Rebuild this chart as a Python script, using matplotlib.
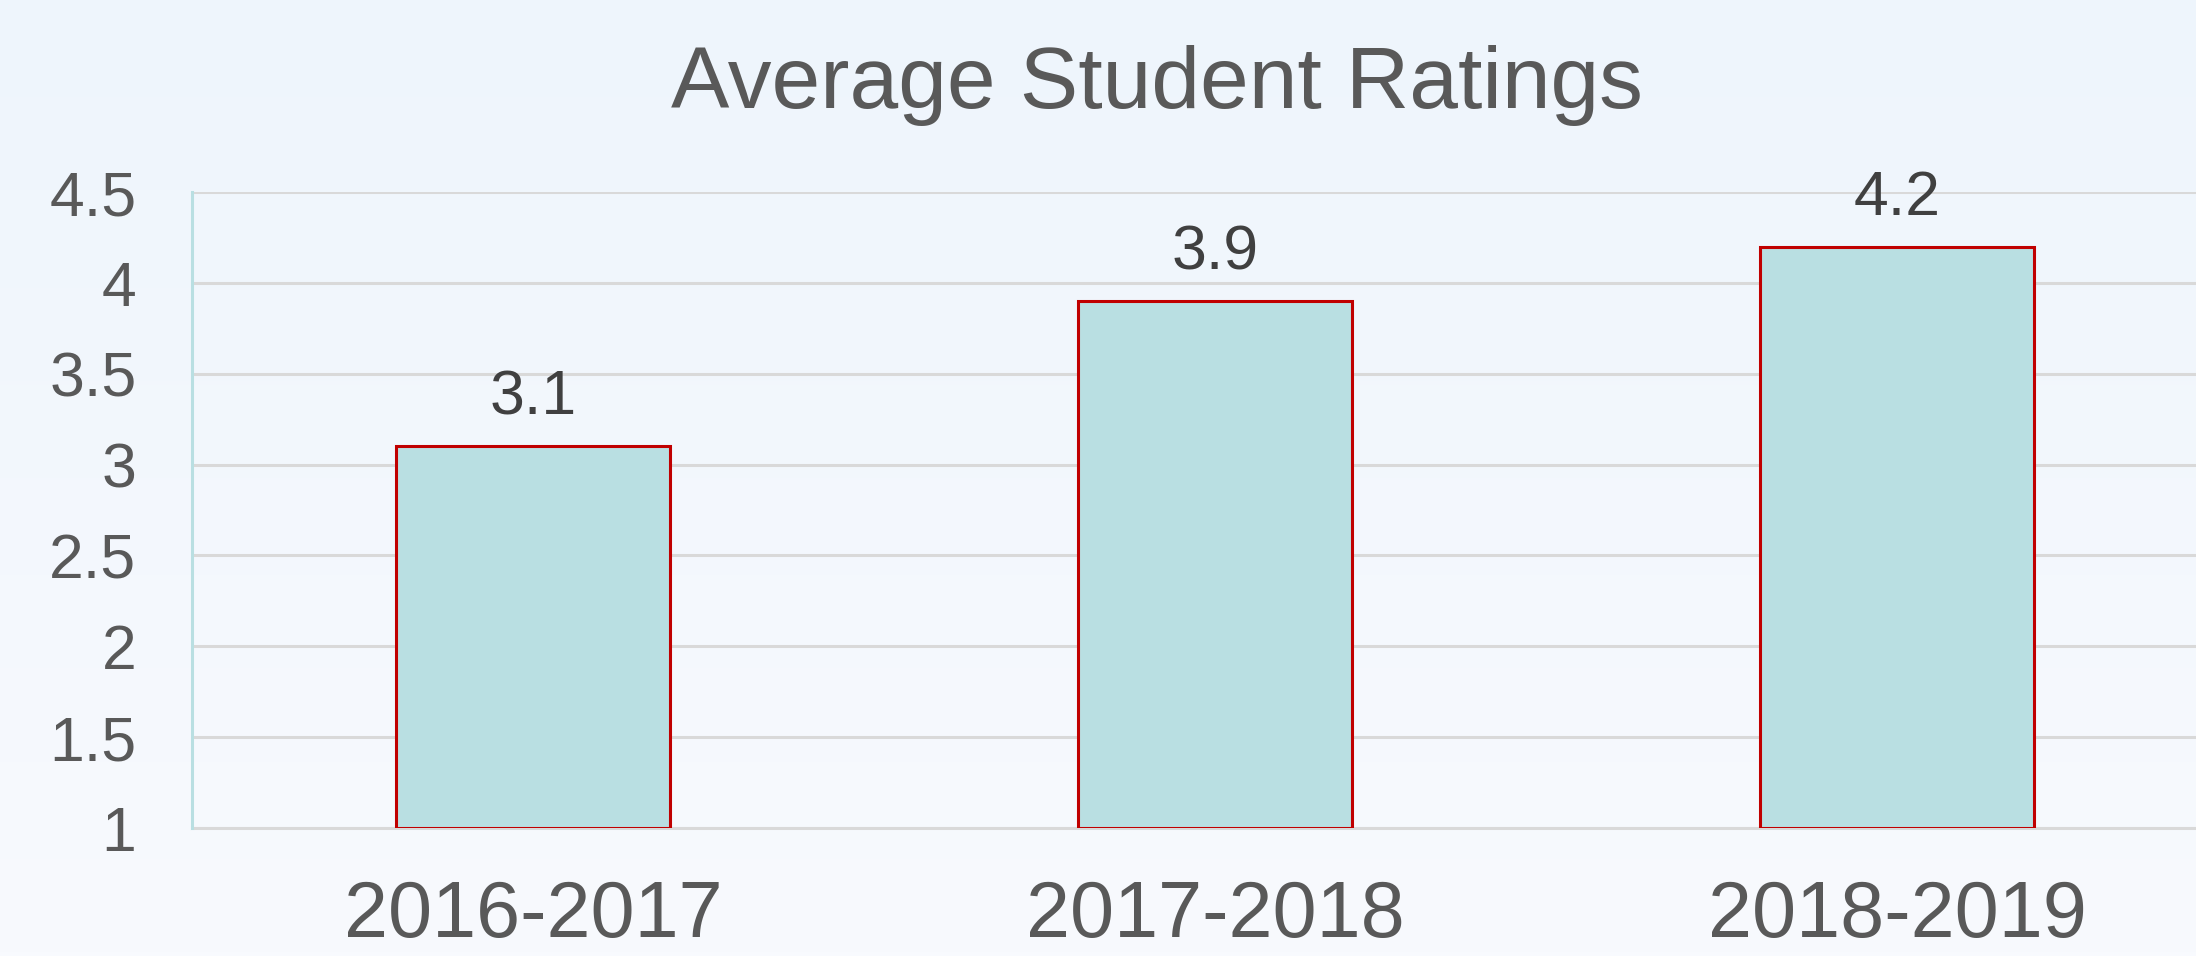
import matplotlib
matplotlib.use("Agg")
import matplotlib.pyplot as plt
import numpy as np

categories = ["2016-2017", "2017-2018", "2018-2019"]
ratings = [3.1, 3.9, 4.2]
y_ticks = [1, 1.5, 2, 2.5, 3, 3.5, 4, 4.5]
y_tick_labels = ["1", "1.5", "2", "2.5", "3", "3.5", "4", "4.5"]
title = "Average Student Ratings"

plt.rcParams['font.family'] = ['Liberation Sans', 'DejaVu Sans']

W, H = 2196, 956
fig = plt.figure(figsize=(W / 100, H / 100), dpi=100)

# background gradient
bg = fig.add_axes([0, 0, 1, 1], zorder=-10)
top = np.array([0xEE, 0xF5, 0xFC]) / 255
bot = np.array([0xF8, 0xFA, 0xFE]) / 255
t = np.linspace(0, 1, 256)[:, None]
grad = (top[None, :] * (1 - t) + bot[None, :] * t)[:, None, :]
bg.imshow(grad, aspect='auto', extent=[0, 1, 0, 1], origin='upper')
bg.axis('off')

left = 192 / W
right = 2238 / W
bottom = 1 - 828 / H
topy = 1 - 192 / H
ax = fig.add_axes([left, bottom, right - left, topy - bottom])
ax.patch.set_alpha(0)

x = np.arange(len(categories))
ax.bar(x, [r - 1 for r in ratings], bottom=1, width=0.403, color="#B9DFE2",
       edgecolor="#C00000", linewidth=2.2, zorder=3)

for xi, r in zip(x, ratings):
    ax.annotate(f"{r}", (xi, r), xytext=(0, 23), textcoords="offset points",
                ha="center", va="baseline", fontsize=45, color="#404040")

ax.set_xlim(-0.5, 2.5)
ax.set_ylim(1, 4.5)
ax.set_yticks(y_ticks)
ax.set_yticklabels(y_tick_labels)
ax.set_xticks(x)
ax.set_xticklabels(categories)
ax.tick_params(axis='y', length=0, pad=40, labelsize=45, labelcolor="#595959")
ax.tick_params(axis='x', length=0, pad=37, labelsize=57, labelcolor="#595959")

ax.yaxis.grid(True, color="#D9D9D9", linewidth=2.2, zorder=0)
ax.set_axisbelow(True)
for s in ["top", "right"]:
    ax.spines[s].set_visible(False)
ax.spines["bottom"].set_color("#D9D9D9")
ax.spines["bottom"].set_linewidth(2.2)
ax.spines["left"].set_color("#B9DFE2")
ax.spines["left"].set_linewidth(2.2)
ax.spines["left"].set_zorder(4)

fig.text(1157 / W, 1 - 86 / H, title, ha="center", va="center",
         fontsize=63, color="#595959")

fig.savefig("out.png", dpi=100)
